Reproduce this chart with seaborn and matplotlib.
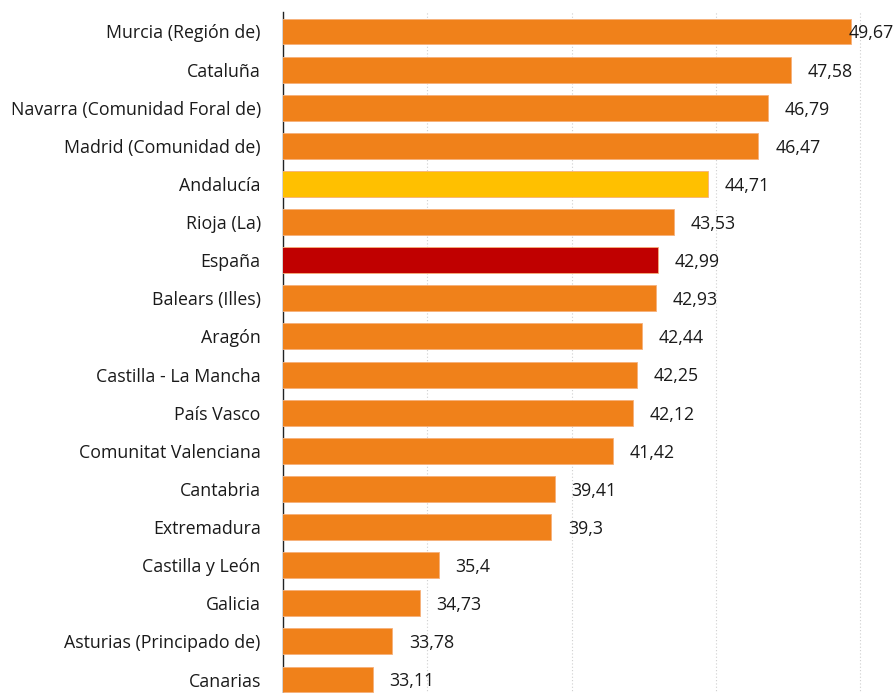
import matplotlib
matplotlib.use("Agg")
import matplotlib.pyplot as plt
import numpy as np
import pandas as pd
import seaborn as sns

regions = [
    "Murcia (Región de)", "Cataluña", "Navarra (Comunidad Foral de)",
    "Madrid (Comunidad de)", "Andalucía", "Rioja (La)", "España",
    "Balears (Illes)", "Aragón", "Castilla - La Mancha", "País Vasco",
    "Comunitat Valenciana", "Cantabria", "Extremadura", "Castilla y León",
    "Galicia", "Asturias (Principado de)", "Canarias",
]
values = [49.67, 47.58, 46.79, 46.47, 44.71, 43.53, 42.99, 42.93, 42.44,
          42.25, 42.12, 41.42, 39.41, 39.3, 35.4, 34.73, 33.78, 33.11]
value_labels = ["49,67", "47,58", "46,79", "46,47", "44,71", "43,53", "42,99",
                "42,93", "42,44", "42,25", "42,12", "41,42", "39,41", "39,3",
                "35,4", "34,73", "33,78", "33,11"]

orange = "#F0811A"
colors = {r: orange for r in regions}
colors["Andalucía"] = "#FFC000"
colors["España"] = "#C00000"

df = pd.DataFrame({"region": regions, "value": values})

sns.set_style("white")
plt.rcParams["font.family"] = ["Open Sans", "DejaVu Sans"]

# axes placed so bar centres land where the reference has them
step = 38.12
top_px = 31.5 - 0.5 * step
bot_px = 679.5 + 0.5 * step
fig = plt.figure(figsize=(8.95, 6.93), dpi=100)
ax = fig.add_axes([283 / 895, 1 - bot_px / 693, 1 - 283 / 895,
                   (bot_px - top_px) / 693])

sns.barplot(data=df, y="region", x="value", hue="region", palette=colors,
            saturation=1, legend=False, width=0.68, edgecolor="#F6B07A",
            linewidth=0.6, ax=ax, zorder=3)

ax.set_xlim(30, 30 + (895 - 283) / 28.87)
ax.set_ylim(len(regions) - 0.5, -0.5)
ax.set_xlabel("")
ax.set_ylabel("")

for i, (v, lab) in enumerate(zip(values, value_labels)):
    if i == 0:
        ax.text(ax.get_xlim()[1] - 0.05, i + 0.05, lab, va="center", ha="right",
                fontsize=12.8, color="#1a1a1a", zorder=4)
    else:
        ax.text(v + 0.58, i + 0.05, lab, va="center", ha="left",
                fontsize=12.8, color="#1a1a1a", zorder=4)

ax.set_xticks([35, 40, 45, 50])
ax.tick_params(axis="x", length=0, labelbottom=False)
ax.xaxis.grid(True, linestyle=(0, (1, 2)), color="#cfcfcf", linewidth=0.8)
ax.tick_params(axis="y", length=0, labelsize=12.8, labelcolor="#1a1a1a", pad=16)
ax.set_yticks(np.arange(len(regions)) - 0.5, minor=True)
ax.tick_params(axis="y", which="minor", length=5, color="#555555", width=0.8)

for s in ["top", "right", "bottom"]:
    ax.spines[s].set_visible(False)
ax.spines["left"].set_color("#222222")
ax.spines["left"].set_linewidth(1.0)

fig.savefig("out.png", dpi=100)
